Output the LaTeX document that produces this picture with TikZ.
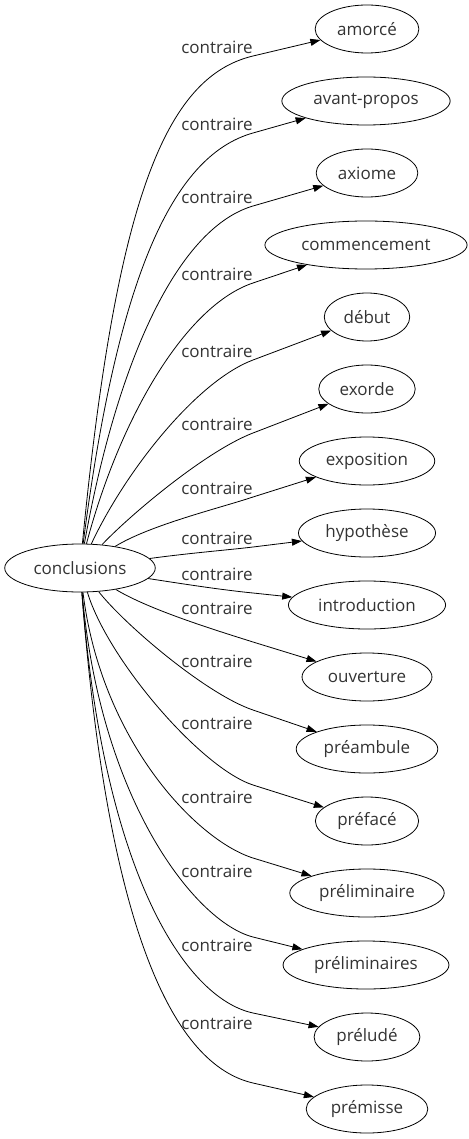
\documentclass[tikz,border=0pt]{standalone}
\usepackage{fontspec}
\setmainfont{Open Sans}
\usetikzlibrary{shapes.geometric,arrows.meta}

\begin{document}
\begin{tikzpicture}[x=1pt, y=-1pt,
        every node/.style={font=\fontsize{17}{19}\selectfont, text=black!80},
        mot/.style={ellipse, draw=black, line width=0.8pt, minimum height=48pt,
                    inner xsep=6.8pt, inner ysep=2pt},
        lien/.style={draw=black, line width=0.8pt,
                     -{Triangle[length=10pt,width=7pt]}},
        marque/.style={inner sep=1pt}
    ]
        \useasboundingbox (0,0) rectangle (468,1139);

        \node[mot] (conc)     at (80,568)   {conclusions};
        \node[mot] (amorce)   at (367,29)   {amorcé};
        \node[mot] (avant)    at (366,101)  {avant-propos};
        \node[mot] (axiome)   at (367,173)  {axiome};
        \node[mot] (commenc)  at (366,245)  {commencement};
        \node[mot] (debut)    at (367,317)  {début};
        \node[mot] (exorde)   at (367,389)  {exorde};
        \node[mot] (expo)     at (367,461)  {exposition};
        \node[mot] (hypo)     at (367,533)  {hypothèse};
        \node[mot] (intro)    at (367,605)  {introduction};
        \node[mot] (ouvert)   at (367,677)  {ouverture};
        \node[mot] (preamb)   at (367,749)  {préambule};
        \node[mot] (preface)  at (367,821)  {préfacé};
        \node[mot] (prelim)   at (367,893)  {préliminaire};
        \node[mot] (prelims)  at (366,965)  {préliminaires};
        \node[mot] (prelude)  at (367,1037) {préludé};
        \node[mot] (premisse) at (367,1109) {prémisse};

        % vers le haut
        \draw[lien] (conc) .. controls (116,200) and (165,77)  .. (253,56)  -- (amorce);
        \draw[lien] (conc) .. controls (117,281) and (171,156) .. (253,133) -- (avant);
        \draw[lien] (conc) .. controls (119,351) and (181,227) .. (253,206) -- (axiome);
        \draw[lien] (conc) .. controls (121,414) and (187,305) .. (253,283) -- (commenc);
        \draw[lien] (conc) .. controls (126,470) and (197,381) .. (253,360) -- (debut);
        \draw[lien] (conc) .. controls (130,515) and (206,451) .. (253,433) -- (exorde);
        \draw[lien] (conc) .. controls (150,525) and (220,508) .. (253,497) -- (expo);
        \draw[lien] (conc) .. controls (190,553) and (228,550) .. (253,547) -- (hypo);
        % vers le bas
        \draw[lien] (conc) .. controls (190,585) and (223,590) .. (253,593)  -- (intro);
        \draw[lien] (conc) .. controls (150,610) and (215,630) .. (253,642)  -- (ouvert);
        \draw[lien] (conc) .. controls (125,625) and (206,694) .. (253,710)  -- (preamb);
        \draw[lien] (conc) .. controls (108,660) and (201,768) .. (253,785)  -- (preface);
        \draw[lien] (conc) .. controls (101,740) and (196,840) .. (253,858)  -- (prelim);
        \draw[lien] (conc) .. controls (100,800) and (195,922) .. (253,937)  -- (prelims);
        \draw[lien] (conc) .. controls (103,870) and (184,998) .. (253,1013) -- (prelude);
        \draw[lien] (conc) .. controls (108,935) and (175,1065) .. (253,1083) -- (premisse);

        \node[marque] (m1)  at (217,47)   {contraire};
        \node[marque] (m2)  at (217,124)  {contraire};
        \node[marque] (m3)  at (217,197)  {contraire};
        \node[marque] (m4)  at (217,274)  {contraire};
        \node[marque] (m5)  at (217,351)  {contraire};
        \node[marque] (m6)  at (217,424)  {contraire};
        \node[marque] (m7)  at (217,488)  {contraire};
        \node[marque] (m8)  at (217,538)  {contraire};
        \node[marque] (m9)  at (217,574)  {contraire};
        \node[marque] (m10) at (217,608)  {contraire};
        \node[marque] (m11) at (217,661)  {contraire};
        \node[marque] (m12) at (217,723)  {contraire};
        \node[marque] (m13) at (217,797)  {contraire};
        \node[marque] (m14) at (217,871)  {contraire};
        \node[marque] (m15) at (217,945)  {contraire};
        \node[marque] (m16) at (217,1023) {contraire};
    \end{tikzpicture}
\end{document}
